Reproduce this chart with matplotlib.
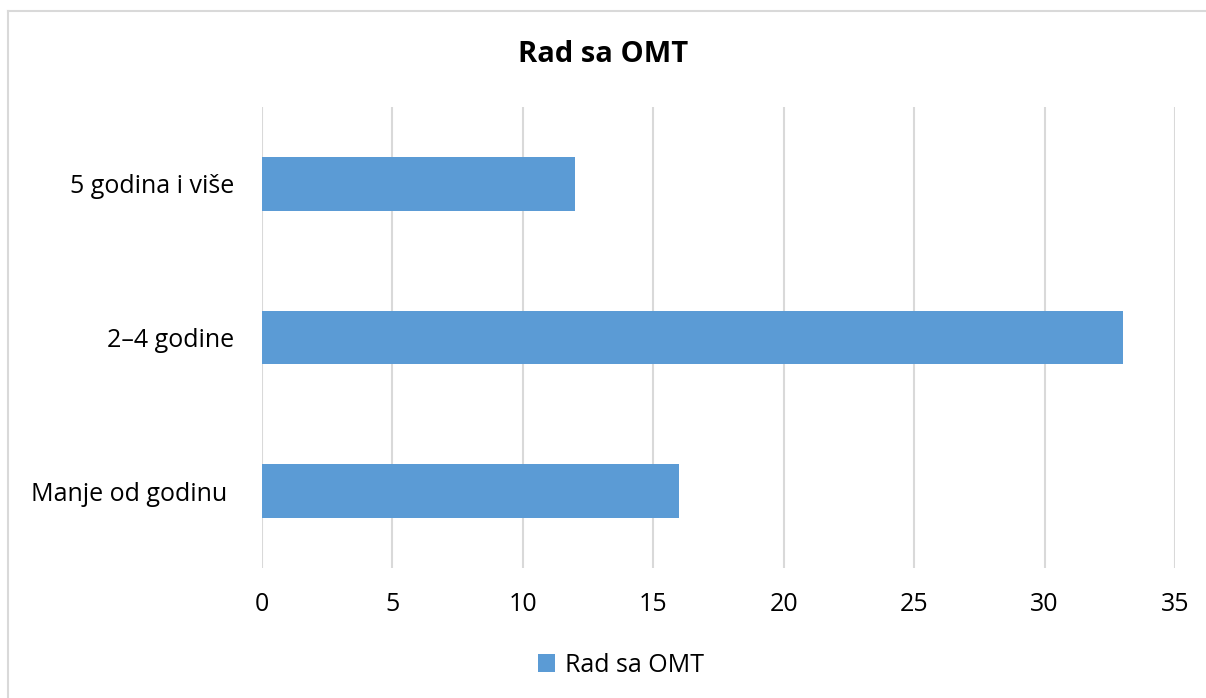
import matplotlib.pyplot as plt
from matplotlib.lines import Line2D

# Data
categories = ['Manje od godinu ', '2–4 godine', '5 godina i više']
values = [16, 33, 12]
series_name = 'Rad sa OMT'
x_ticks = [0, 5, 10, 15, 20, 25, 30, 35]

plt.rcParams['font.family'] = ['Open Sans', 'DejaVu Sans']

fig = plt.figure(figsize=(12.06, 6.98), dpi=100)
ax = fig.add_axes([262 / 1206, 130 / 698, 913 / 1206, 461 / 698])

bar_color = '#5b9bd5'
ax.barh(range(len(categories)), values, height=0.35, color=bar_color,
        label=series_name, zorder=3)

# Format plot.
ax.set_xlim(0, 35)
ax.set_ylim(-0.5, len(categories) - 0.5)
ax.set_xticks(x_ticks)
ax.set_yticks(range(len(categories)))
ax.set_yticklabels(categories)
ax.grid(axis='x', color='#d9d9d9', linewidth=1.5, zorder=0)
for spine in ax.spines.values():
    spine.set_visible(False)
ax.tick_params(axis='both', length=0, labelsize=18, colors='black')
ax.tick_params(axis='y', pad=20)
ax.tick_params(axis='x', pad=17)

fig.text(0.5, 1 - 55 / 698, 'Rad sa OMT', ha='center', va='center',
         fontsize=21, fontweight='bold')

fig.legend(loc='center', bbox_to_anchor=(0.515, 1 - 665 / 698), frameon=False,
           fontsize=18, handlelength=0.7, handleheight=0.7, handletextpad=0.4)

# Outer border (top and left only visible)
fig.add_artist(Line2D([8 / 1206, 1], [1 - 11 / 698, 1 - 11 / 698],
                      transform=fig.transFigure, color='#d9d9d9', linewidth=1.5))
fig.add_artist(Line2D([8 / 1206, 8 / 1206], [0, 1 - 11 / 698],
                      transform=fig.transFigure, color='#d9d9d9', linewidth=1.5))

fig.savefig('out.png', dpi=100)
